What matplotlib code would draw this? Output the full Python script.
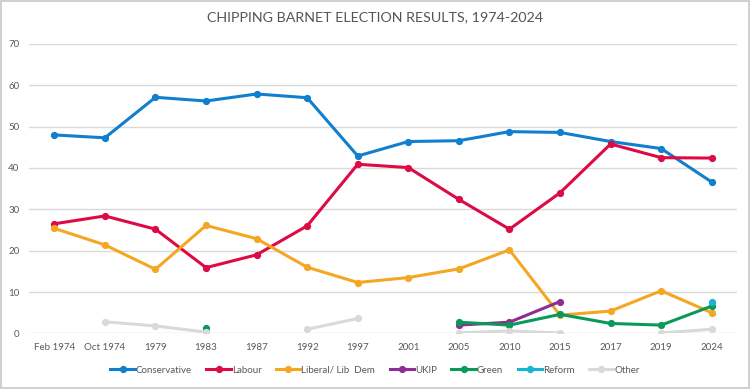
import numpy as np
import matplotlib.pyplot as plt

plt.rcParams['font.family'] = ['Lato', 'DejaVu Sans']

years = ['Feb 1974', 'Oct 1974', '1979', '1983', '1987', '1992', '1997',
         '2001', '2005', '2010', '2015', '2017', '2019', '2024']
nan = np.nan

conservative = [48.0, 47.3, 57.1, 56.2, 57.9, 57.0, 42.9, 46.4, 46.6, 48.8, 48.6, 46.4, 44.7, 36.6]
labour = [26.5, 28.4, 25.2, 15.9, 19.0, 26.0, 40.9, 40.1, 32.4, 25.2, 34.0, 45.8, 42.5, 42.4]
libdem = [25.4, 21.4, 15.5, 26.1, 22.9, 16.0, 12.3, 13.5, 15.6, 20.2, 4.4, 5.4, 10.3, 5.0]
ukip = [nan, nan, nan, nan, nan, nan, nan, nan, 2.0, 2.7, 7.7, nan, nan, nan]
green = [nan, nan, nan, 1.2, nan, nan, nan, nan, 2.7, 2.0, 4.6, 2.4, 2.0, 6.6]
reform = [nan] * 13 + [7.7]
other = [nan, 2.8, 1.8, 0.3, nan, 1.0, 3.6, nan, 0.1, 0.6, 0.1, nan, 0.1, 1.0]

series = [
    ('Conservative', conservative, '#0F7FCE'),
    ('Labour', labour, '#DE0A45'),
    ('Liberal/ Lib  Dem', libdem, '#F5A623'),
    ('UKIP', ukip, '#8E2E93'),
    ('Green', green, '#0A9A58'),
    ('Reform', reform, '#17B5D3'),
    ('Other', other, '#D9D9D9'),
]

fig = plt.figure(figsize=(7.5, 3.89), dpi=100)
fig.patch.set_edgecolor('#D0D0D0')
fig.patch.set_linewidth(1.5)
ax = fig.add_axes([0.0387, 0.143, 0.944, 0.744])

x = np.arange(len(years))
for name, vals, col in series:
    ax.plot(x, vals, color=col, linewidth=2.2, marker='o', markersize=4.2,
            label=name, zorder=3)

ax.set_xlim(-0.5, len(years) - 0.5)
ax.set_ylim(0, 70)
ax.set_yticks(range(0, 71, 10))
ax.set_xticks(x)
ax.set_xticklabels(years)
ax.tick_params(axis='both', length=0, labelsize=7, colors='#595959')
ax.tick_params(axis='x', pad=7)
ax.tick_params(axis='y', pad=7)
ax.grid(axis='y', color='#D9D9D9', linewidth=1)
ax.set_axisbelow(True)
for s in ax.spines.values():
    s.set_visible(False)

fig.text(0.5, 0.955, 'CHIPPING BARNET ELECTION RESULTS, 1974-2024',
         ha='center', va='center', fontsize=10.3, color='#555555')

fig.legend(loc='center', bbox_to_anchor=(0.5, 0.048), ncol=7, frameon=False,
           fontsize=7, labelcolor='#595959', handlelength=2.5, handletextpad=0.1,
           columnspacing=1.5)

fig.savefig('out.png', dpi=100, edgecolor=fig.get_edgecolor())
